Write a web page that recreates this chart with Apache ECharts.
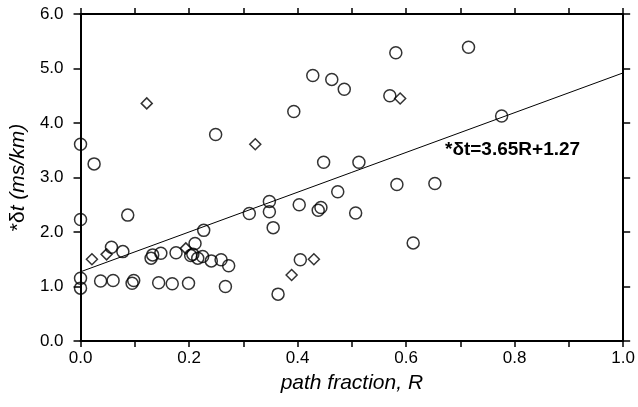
<!DOCTYPE html>
<html>
<head>
<meta charset="utf-8">
<script src="https://cdn.jsdelivr.net/npm/echarts@6/dist/echarts.min.js"></script>
<style>html,body{margin:0;padding:0;background:#fff}#c{width:638px;height:407px}</style>
</head>
<body>
<div id="c"></div>
<script>
// ---- data ----
var circlePoints = [
  [0.000,3.61],[0.025,3.25],[0.249,3.79],[0.581,5.29],[0.428,4.87],[0.463,4.80],[0.486,4.62],
  [0.570,4.50],[0.393,4.21],[0.448,3.28],[0.513,3.28],[0.715,5.39],[0.776,4.13],
  [0.000,2.23],[0.087,2.31],[0.311,2.34],[0.227,2.03],[0.211,1.79],[0.057,1.72],[0.078,1.64],
  [0.130,1.52],[0.133,1.58],[0.148,1.61],[0.176,1.62],[0.203,1.57],[0.207,1.59],[0.216,1.52],
  [0.225,1.55],[0.241,1.47],[0.259,1.49],[0.273,1.38],
  [0.000,1.15],[0.000,0.97],[0.037,1.10],[0.060,1.11],[0.095,1.06],[0.098,1.11],[0.144,1.07],
  [0.169,1.05],[0.199,1.06],[0.267,1.00],
  [0.348,2.56],[0.348,2.37],[0.355,2.08],[0.403,2.50],[0.438,2.40],[0.443,2.45],[0.474,2.74],
  [0.507,2.35],[0.583,2.87],[0.653,2.89],[0.613,1.80],[0.405,1.49],[0.364,0.86]
];
var diamondPoints = [
  [0.122,4.36],[0.322,3.61],[0.589,4.45],[0.021,1.50],[0.048,1.59],[0.194,1.70],[0.430,1.50],[0.389,1.21]
];
var fitSlope = 3.65;
var fitIntercept = 1.27;
var fitRange = [0, 1];
var fitLabel = '*\u03b4t=3.65R+1.27';
var xName = 'path fraction, R';

var fitLine = fitRange.map(function (r) { return [r, fitSlope * r + fitIntercept]; });

var FONT = '"Liberation Sans", Arial, Helvetica, sans-serif';
var chart = echarts.init(document.getElementById('c'), null, {renderer: 'canvas'});

function xAxisCfg(pos, showLabel) {
  return {
    type: 'value', position: pos, min: 0, max: 1, interval: 0.1,
    axisLine: {show: true, onZero: false, lineStyle: {color: '#000', width: 2}},
    axisTick: {show: true, inside: false, length: 6, lineStyle: {color: '#000', width: 1.5}},
    axisLabel: {
      show: showLabel, margin: 9, color: '#000', fontFamily: FONT, fontSize: 17,
      formatter: function (v) {
        var k = Math.round(v * 10);
        return (k % 2 === 0) ? (k / 10).toFixed(1) : '';
      }
    },
    splitLine: {show: false},
    name: showLabel ? xName : '',
    nameLocation: 'middle', nameGap: 32,
    nameTextStyle: {color: '#000', fontFamily: FONT, fontSize: 21, fontStyle: 'italic'}
  };
}
function yAxisCfg(pos, showLabel) {
  return {
    type: 'value', position: pos, min: 0, max: 6, interval: 1,
    axisLine: {show: true, onZero: false, lineStyle: {color: '#000', width: 2}},
    axisTick: {show: true, inside: false, length: 7, lineStyle: {color: '#000', width: 1.5}},
    axisLabel: {
      show: showLabel, margin: 17, color: '#000', fontFamily: FONT, fontSize: 17,
      formatter: function (v) { return v.toFixed(1); }
    },
    splitLine: {show: false},
    name: showLabel ? '{a|*\u03b4}{b|t (ms/km)}' : '',
    nameLocation: 'middle', nameGap: 42, nameRotate: 90,
    nameTextStyle: {
      color: '#000', fontFamily: FONT, fontSize: 21,
      rich: {
        a: {fontFamily: FONT, fontSize: 21, color: '#000'},
        b: {fontFamily: FONT, fontSize: 21, fontStyle: 'italic', color: '#000'}
      }
    }
  };
}

chart.setOption({
  animation: false,
  backgroundColor: '#fff',
  grid: {left: 77, right: 10, top: 14, bottom: 66, containLabel: false},
  xAxis: [xAxisCfg('bottom', true), xAxisCfg('top', false)],
  yAxis: [yAxisCfg('left', true), yAxisCfg('right', false)],
  series: [
    {
      type: 'line', data: fitLine, symbol: 'none', silent: true,
      lineStyle: {color: '#000', width: 1}, z: 2
    },
    {
      type: 'scatter', data: circlePoints, symbol: 'circle', symbolSize: 12, clip: false,
      itemStyle: {color: 'rgba(0,0,0,0)', borderColor: '#000', borderWidth: 1.5}, z: 3
    },
    {
      type: 'scatter', data: diamondPoints, symbol: 'diamond', symbolSize: 11, clip: false,
      itemStyle: {color: 'rgba(0,0,0,0)', borderColor: '#000', borderWidth: 1.5}, z: 3
    }
  ],
  graphic: [{
    type: 'text', x: 445, y: 150,
    style: {
      text: fitLabel, fill: '#000', font: 'bold 19px ' + FONT,
      textAlign: 'left', textVerticalAlign: 'middle'
    }
  }]
});
</script>
</body>
</html>
